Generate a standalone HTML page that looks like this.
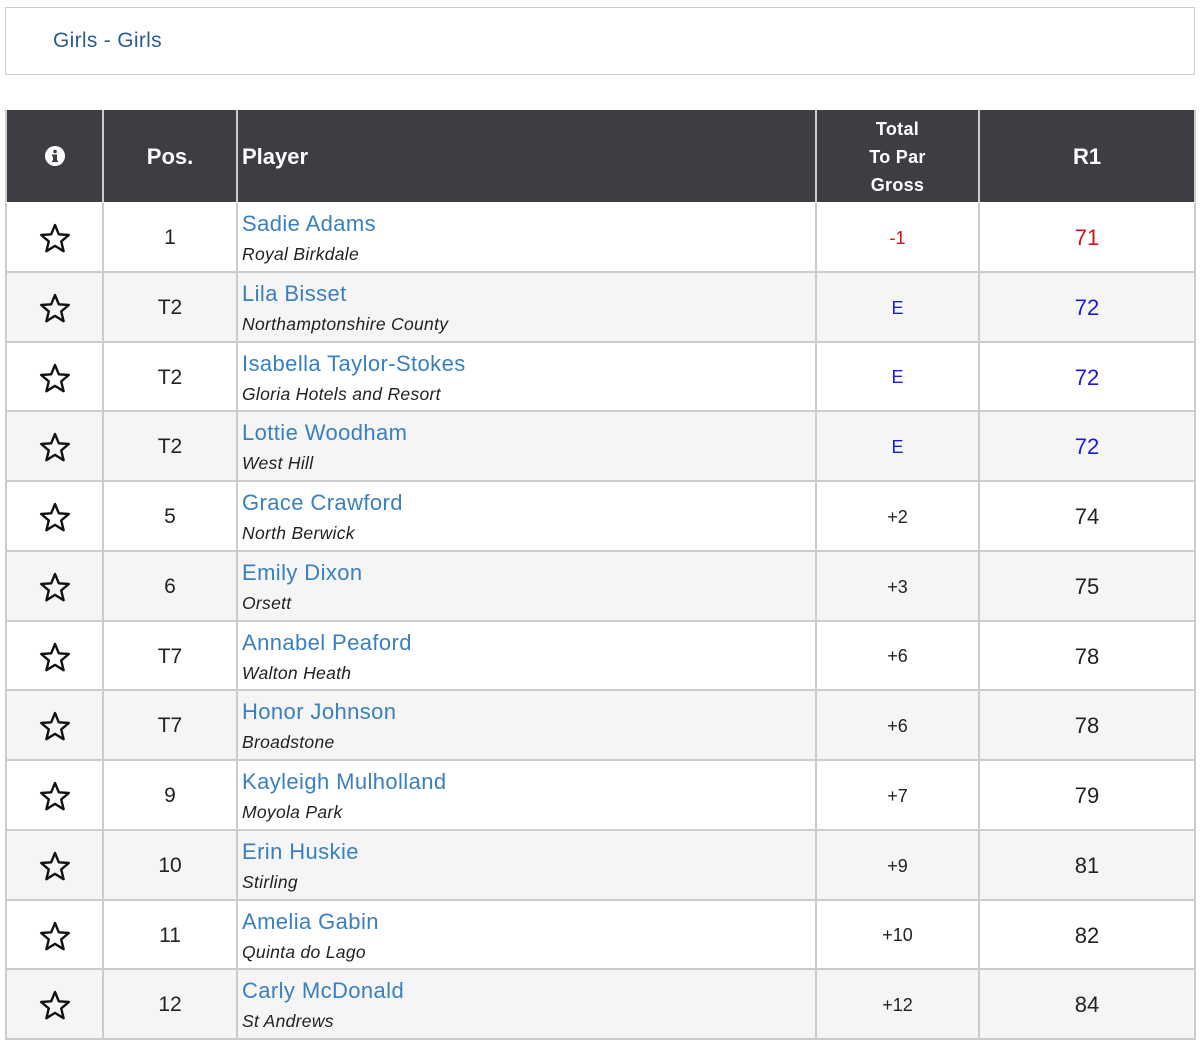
<!DOCTYPE html>
<html><head><meta charset="utf-8"><style>
body{margin:0;width:1200px;height:1050px;background:#fff;font-family:"Liberation Sans",sans-serif;position:relative;overflow:hidden}
.top{position:absolute;left:5px;top:7px;width:1188px;height:66px;border:1px solid #ccc;}
.top span{position:absolute;left:47px;top:21px;font-size:21px;color:#2d5d8e;letter-spacing:0.3px}
.hd{position:absolute;top:110px;height:92px;background:#3e3d44;color:#fff;font-weight:bold;display:flex;align-items:center;justify-content:center;text-align:center;box-sizing:border-box;border-right:2px solid #ccc}
.c{position:absolute;box-sizing:border-box;border-right:2px solid #ccc;border-bottom:2px solid #ccc;display:flex;align-items:center;justify-content:center}
</style></head><body>
<div class="top"><span>Girls - Girls</span></div>
<div id="tbl">
<div class="hd" style="left:5px;width:99px;border-left:2px solid #ccc"><svg width="20" height="20" viewBox="0 0 20 20"><circle cx="10" cy="10" r="10" fill="#fff"/><circle cx="10" cy="5.5" r="1.8" fill="#3e3d44"/><rect x="8" y="8.5" width="4" height="7.5" fill="#3e3d44"/><rect x="7" y="8.5" width="2" height="2" fill="#3e3d44"/><rect x="7" y="14.5" width="6" height="1.6" fill="#3e3d44"/></svg></div>
<div class="hd" style="left:104px;width:134px;font-size:22px;padding-top:2px">Pos.</div>
<div class="hd" style="left:238px;width:579px;font-size:22px;justify-content:flex-start;padding-left:4px;padding-top:2px">Player</div>
<div class="hd" style="left:817px;width:163px;font-size:18px;line-height:28px;letter-spacing:0.3px;padding-top:2px">Total<br>To Par<br>Gross</div>
<div class="hd" style="left:980px;width:216px;font-size:22px;padding-top:2px">R1</div>
</div>
<script>
const positions=["1","T2","T2","T2","5","6","T7","T7","9","10","11","12"];
const players=["Sadie Adams","Lila Bisset","Isabella Taylor-Stokes","Lottie Woodham","Grace Crawford","Emily Dixon","Annabel Peaford","Honor Johnson","Kayleigh Mulholland","Erin Huskie","Amelia Gabin","Carly McDonald"];
const clubs=["Royal Birkdale","Northamptonshire County","Gloria Hotels and Resort","West Hill","North Berwick","Orsett","Walton Heath","Broadstone","Moyola Park","Stirling","Quinta do Lago","St Andrews"];
const toPar=["-1","E","E","E","+2","+3","+6","+6","+7","+9","+10","+12"];
const r1=[71,72,72,72,74,75,78,78,79,81,82,84];
const tbl=document.getElementById('tbl');
const top0=203,rh=69.75;
function cell(x,w,y,h,bg,html,extra){const d=document.createElement('div');d.className='c';d.style.cssText=`left:${x}px;width:${w}px;top:${y}px;height:${h}px;background:${bg};`+(extra||'');d.innerHTML=html;tbl.appendChild(d);return d;}
const star='<svg width="32" height="30" viewBox="0 0 32 30"><polygon points="16,2 19.8,11.3 29.8,12 22.2,18.4 24.6,28.2 16,22.9 7.4,28.2 9.8,18.4 2.2,12 12.2,11.3" fill="none" stroke="#111" stroke-width="2.4" stroke-linejoin="round"/></svg>';
players.forEach((p,i)=>{
 const y=Math.round(top0+i*rh),h=Math.round(top0+(i+1)*rh)-y;
 const bg=i%2?'#f5f5f5':'#fff';
 const col=r1[i]<72?'#d0111b':(r1[i]==72?'#1a1adb':'#222');
 let d=cell(5,99,y,h,bg,star,'border-left:2px solid #ccc;padding-top:2px');
 
 
 d=cell(104,134,y,h,bg,positions[i],'font-size:21px;color:#222;padding-top:2px');
 
 
 d=cell(238,579,y,h,bg,`<div style="position:absolute;left:4px;top:8px;font-size:22px;color:#3a7fc0;letter-spacing:0.4px">${p}</div><div style="position:absolute;left:4px;top:41px;font-size:17.5px;font-style:italic;color:#222;letter-spacing:0.3px">${clubs[i]}</div>`);
 
 
 d=cell(817,163,y,h,bg,toPar[i],`font-size:18px;color:${col};padding-top:2px`);
 
 
 d=cell(980,216,y,h,bg,String(r1[i]),`font-size:22px;color:${col};padding-top:2px`);
 
 
});
</script>
</body></html>
